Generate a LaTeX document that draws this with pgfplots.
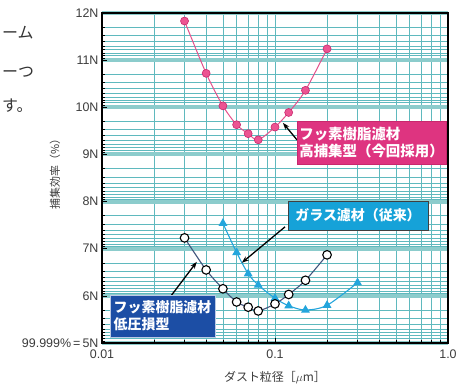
\documentclass[border=0pt]{standalone}
\usepackage{pgfplots}
\pgfplotsset{compat=1.18}
\usepackage{fontspec}
\setmainfont{Liberation Sans}
\newfontfamily\jp{Noto Sans CJK JP}
\usetikzlibrary{arrows.meta}
\definecolor{pinkline}{RGB}{228,80,140}
\definecolor{pinkfill}{RGB}{236,84,146}
\definecolor{pinkedge}{RGB}{200,40,110}
\definecolor{pinkbox}{RGB}{222,52,128}
\definecolor{cyanline}{RGB}{35,165,220}
\definecolor{cyanbox}{RGB}{22,162,216}
\definecolor{navybox}{RGB}{28,78,165}
\definecolor{circline}{RGB}{65,85,125}
\definecolor{gridteal}{RGB}{95,185,190}
\definecolor{gridband}{RGB}{140,204,204}
\definecolor{labelgray}{RGB}{60,60,60}
\begin{document}
\begin{tikzpicture}
\useasboundingbox (-102bp,-48bp) rectangle (370bp,343bp);
\begin{axis}[
  at={(0,0)}, anchor=south west,
  scale only axis, width=346bp, height=330bp,
  xmode=log, xmin=0.01, xmax=1, ymin=5, ymax=12,
  clip=false,
  xtick={0.01,0.1,1}, xticklabels={0.01,0.1,1.0},
  minor xtick={0.02,0.03,0.04,0.05,0.06,0.07,0.08,0.09,0.2,0.3,0.4,0.5,0.6,0.7,0.8,0.9},
  ytick={5,6,7,8,9,10,11,12},
  yticklabels={99.999\%\,=\,5N,6N,7N,8N,9N,10N,11N,12N},
  minor ytick={5.046,5.097,5.155,5.222,5.301,5.398,5.523,5.699,
               6.046,6.097,6.155,6.222,6.301,6.398,6.523,6.699,
               7.046,7.097,7.155,7.222,7.301,7.398,7.523,7.699,
               8.046,8.097,8.155,8.222,8.301,8.398,8.523,8.699,
               9.046,9.097,9.155,9.222,9.301,9.398,9.523,9.699,
               10.046,10.097,10.155,10.222,10.301,10.398,10.523,10.699,
               11.046,11.097,11.155,11.222,11.301,11.398,11.523,11.699},
  grid=both,
  major x grid style={line width=0.9bp, color=gridteal},
  minor x grid style={line width=0.8bp, color=gridteal},
  major y grid style={line width=4bp, color=gridband},
  minor y grid style={line width=0.6bp, color=gridteal},
  axis line style={line width=1.8bp, black},
  tick align=inside, tick pos=left,
  major tick length=5bp, minor tick length=3bp,
  tick style={black, line width=0.6bp},
  /pgf/number format/assume math mode=true,
  xticklabel style={font=\fontsize{12.5}{13}\selectfont, text=labelgray, yshift=-3bp},
  yticklabel style={font=\fontsize{12.5}{13}\selectfont, text=labelgray},
  xlabel={\jp ダスト粒径［$\mu$m］},
  xlabel style={at={(rel axis cs:0.5,-0.106)}, anchor=center, font=\fontsize{12}{13}\selectfont, text=labelgray},
  ylabel={\jp 捕集効率（\%）},
  ylabel style={at={(rel axis cs:-0.136,0.52)}, anchor=center, font=\fontsize{11}{12}\selectfont, text=labelgray},
]
\addplot[smooth, tension=0.5, color=pinkline, line width=1bp, mark=*, mark size=4bp,
  mark options={fill=pinkfill, draw=pinkedge, line width=0.6bp}]
  coordinates {(0.03,11.83)(0.04,10.72)(0.05,10.03)(0.06,9.63)(0.07,9.44)(0.08,9.31)(0.1,9.58)(0.12,9.89)(0.15,10.36)(0.2,11.24)};
\addplot[smooth, tension=0.5, color=cyanline, line width=1.1bp, mark=triangle*, mark size=4bp,
  mark options={fill=cyanline, draw=cyanline}]
  coordinates {(0.05,7.54)(0.06,6.92)(0.07,6.47)(0.08,6.23)(0.1,5.95)(0.12,5.79)(0.15,5.70)(0.2,5.80)(0.3,6.28)};
\addplot[smooth, tension=0.5, color=circline, line width=1.1bp, mark=*, mark size=4.3bp,
  mark options={fill=white, draw=black, line width=1.1bp}]
  coordinates {(0.03,7.23)(0.04,6.55)(0.05,6.15)(0.06,5.87)(0.07,5.76)(0.08,5.68)(0.1,5.83)(0.12,6.03)(0.15,6.33)(0.2,6.87)};
% annotations
\draw[-{Stealth[length=7bp,width=5bp]}, line width=1.3bp, black] (rel axis cs:0.564,0.615) -- (rel axis cs:0.523,0.667);
\node[fill=pinkbox, draw=pinkedge, text=white, align=left, inner sep=2bp,
  minimum width=147bp, minimum height=43bp,
  font=\jp\bfseries\fontsize{14.5}{17}\selectfont] at (rel axis cs:0.779,0.608)
  {フッ素樹脂濾材\\高捕集型（今回採用）};
\draw[-{Stealth[length=7bp,width=5bp]}, line width=1.3bp, black] (rel axis cs:0.529,0.352) -- (rel axis cs:0.404,0.243);
\node[fill=cyanbox, draw=black!75, text=white, inner sep=2bp,
  minimum width=140bp, minimum height=29bp,
  font=\jp\bfseries\fontsize{14}{16}\selectfont] at (rel axis cs:0.740,0.386)
  {ガラス濾材（従来）};
\draw[-{Stealth[length=7bp,width=5bp]}, line width=1.3bp, black] (rel axis cs:0.201,0.145) -- (rel axis cs:0.274,0.246);
\node[fill=navybox, draw=white!70!navybox, text=white, align=left, inner sep=2bp,
  minimum width=105bp, minimum height=42bp,
  font=\jp\bfseries\fontsize{14}{17}\selectfont] at (rel axis cs:0.175,0.082)
  {フッ素樹脂濾材\\低圧損型};
\end{axis}
% fragments of surrounding page text
\node[anchor=west, inner sep=0pt, font=\jp\fontsize{16}{16}\selectfont, text=black!80] at (-100bp,310bp) {ーム};
\node[anchor=west, inner sep=0pt, font=\jp\fontsize{16}{16}\selectfont, text=black!80] at (-100bp,271bp) {ーつ};
\node[anchor=west, inner sep=0pt, font=\jp\fontsize{16}{16}\selectfont, text=black!80] at (-100bp,237bp) {す。};
\end{tikzpicture}
\end{document}
